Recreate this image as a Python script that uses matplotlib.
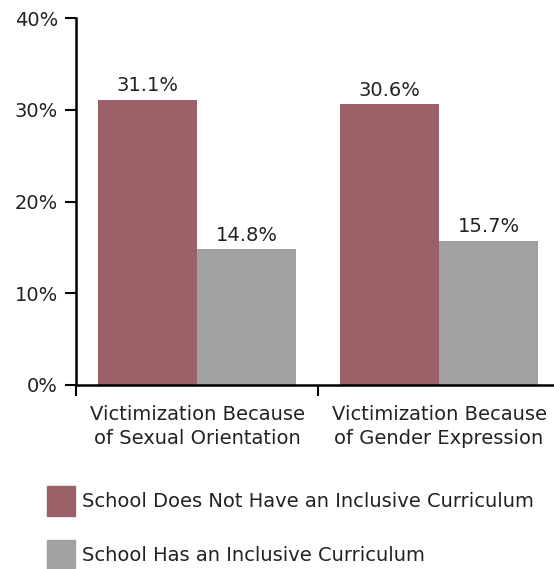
import matplotlib
matplotlib.use("Agg")
import matplotlib.pyplot as plt
from matplotlib.patches import Patch
import numpy as np

categories = ["Victimization Because\nof Sexual Orientation",
              "Victimization Because\nof Gender Expression"]
no_curriculum = [31.1, 30.6]
has_curriculum = [14.8, 15.7]
series_names = ["School Does Not Have an Inclusive Curriculum",
                "School Has an Inclusive Curriculum"]
yticks = [0, 10, 20, 30, 40]

red = "#9b6068"
grey = "#a0a1a3"
txt = "#222222"
plt.rcParams['font.family'] = ['DejaVu Sans']

fig = plt.figure(figsize=(5.54, 5.69), dpi=100)
# axes in pixel terms: left 76, right 560, bottom 385, top 18
W, H = 554, 569
ax = fig.add_axes([76 / W, (H - 385) / H, 484 / W, (385 - 18) / H])

x = np.arange(len(categories)) + 0.5
w = 0.41
ax.bar(x - w / 2, no_curriculum, w, color=red)
ax.bar(x + w / 2, has_curriculum, w, color=grey)

for xi, v in zip(x - w / 2, no_curriculum):
    ax.text(xi, v + 0.5, f"{v}%", ha="center", va="bottom", fontsize=14, color=txt)
for xi, v in zip(x + w / 2, has_curriculum):
    ax.text(xi, v + 0.5, f"{v}%", ha="center", va="bottom", fontsize=14, color=txt)

ax.set_xlim(0, 2)
ax.set_ylim(0, 40)
ax.set_yticks(yticks)
ax.set_yticklabels([f"{t}%" for t in yticks], fontsize=14, color=txt)
ax.set_xticks([0, 1, 2])
ax.set_xticklabels([])
ax.tick_params(axis="both", direction="out", length=8, width=1.5, color="black")
ax.tick_params(axis="y", pad=5)
for xi, c in zip(x, categories):
    ax.text(xi, -2.2, c, ha="center", va="top", fontsize=14, color=txt,
            linespacing=1.3)

for s in ["top", "right"]:
    ax.spines[s].set_visible(False)
for s in ["left", "bottom"]:
    ax.spines[s].set_linewidth(1.8)

handles = [Patch(color=red), Patch(color=grey)]
fig.legend(handles, series_names, loc="upper left",
           bbox_to_anchor=(29 / W, 1 - 468 / H), frameon=False,
           fontsize=14, handlelength=1.45, handleheight=2.05,
           handletextpad=0.4, labelspacing=1.2, labelcolor=txt)

fig.savefig("out.png", dpi=100)
